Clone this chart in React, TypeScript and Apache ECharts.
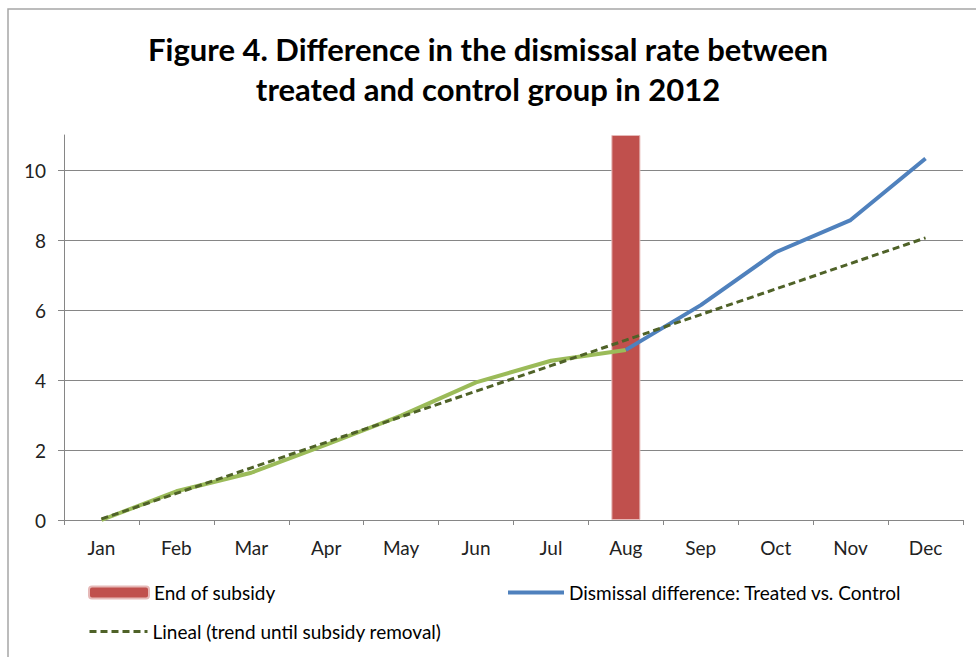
import React, { useEffect, useRef } from "react";
import * as echarts from "echarts";

const months = ["Jan", "Feb", "Mar", "Apr", "May", "Jun", "Jul", "Aug", "Sep", "Oct", "Nov", "Dec"];
const beforeRemoval = [0, 0.82, 1.35, 2.15, 2.98, 3.93, 4.55, 4.86, null, null, null, null];
const dismissalDiff = [null, null, null, null, null, null, null, 4.86, 6.14, 7.65, 8.57, 10.33];
const trendValues = [0.03, 0.76, 1.49, 2.22, 2.95, 3.68, 4.41, 5.14, 5.87, 6.6, 7.33, 8.06];
const subsidyBar = [null, null, null, null, null, null, null, 11, null, null, null, null];
const yTicks = [0, 2, 4, 6, 8, 10];
const gridValues = [2, 4, 6, 8, 10];

const FONT = "Lato";

export default function App() {
  const ref = useRef<HTMLDivElement>(null);
  useEffect(() => {
    const chart = echarts.init(ref.current!, null, { renderer: "svg" });
    const legendText = { fontFamily: FONT, fontSize: 19, color: "#000" };
    chart.setOption({
      animation: false,
      backgroundColor: "#fff",
      title: {
        text: "Figure 4. Difference in the dismissal rate between\ntreated and control group in 2012",
        left: "center",
        top: 24,
        textStyle: { fontFamily: FONT, fontWeight: "bold", fontSize: 31, lineHeight: 40, color: "#000" },
      },
      graphic: [
        {
          type: "rect",
          shape: { x: 8, y: 9, width: 1000, height: 700 },
          style: { fill: "none", stroke: "#a6a6a6", lineWidth: 1.5 },
          silent: true,
        },
      ],
      legend: [
        {
          data: ["End of subsidy"],
          left: 83,
          top: 578,
          itemWidth: 60,
          itemHeight: 12,
          itemGap: 4,
          textStyle: legendText,
        },
        {
          data: ["Dismissal difference: Treated vs. Control"],
          left: 501,
          top: 578,
          itemWidth: 56,
          itemHeight: 12,
          itemStyle: { opacity: 0 },
          lineStyle: { width: 4 },
          textStyle: legendText,
        },
        {
          data: ["Lineal (trend until subsidy removal)"],
          left: 83,
          top: 617,
          itemWidth: 58,
          itemHeight: 12,
          itemStyle: { opacity: 0 },
          lineStyle: { width: 3 },
          textStyle: legendText,
        },
      ],
      grid: { left: 64, right: 13, top: 135, bottom: 137, containLabel: false },
      xAxis: {
        type: "category",
        data: months,
        boundaryGap: true,
        axisLine: { lineStyle: { color: "#868686", width: 1 } },
        axisTick: { show: true, length: 5, lineStyle: { color: "#868686" } },
        axisLabel: { fontFamily: FONT, fontSize: 19, color: "#222", margin: 18 },
      },
      yAxis: {
        type: "value",
        min: 0,
        max: 11,
        interval: 2,
        axisLine: { show: true, lineStyle: { color: "#868686", width: 1 } },
        axisTick: { show: true, length: 6, inside: false, customValues: yTicks, lineStyle: { color: "#868686" } },
        axisLabel: { fontFamily: FONT, fontSize: 19, color: "#222", margin: 18, customValues: yTicks },
        splitLine: { show: false },
      },
      series: [
        {
          name: "End of subsidy",
          type: "bar",
          data: subsidyBar,
          barWidth: 29,
          z: 2,
          itemStyle: { color: "#C0504D", borderColor: "#E6B9B8", borderWidth: 1 },
          markLine: {
            silent: true,
            z: 1,
            symbol: "none",
            label: { show: false },
            lineStyle: { color: "#868686", width: 1, type: "solid" },
            data: gridValues.map((v) => ({ yAxis: v })),
          },
        },
        {
          name: "Before removal",
          type: "line",
          data: beforeRemoval,
          symbol: "none",
          z: 3,
          lineStyle: { color: "#9BBB59", width: 4 },
          itemStyle: { color: "#9BBB59" },
        },
        {
          name: "Dismissal difference: Treated vs. Control",
          type: "line",
          data: dismissalDiff,
          symbol: "none",
          z: 3,
          lineStyle: { color: "#4F81BD", width: 4 },
          itemStyle: { color: "#4F81BD" },
        },
        {
          name: "Lineal (trend until subsidy removal)",
          type: "line",
          data: trendValues,
          symbol: "none",
          z: 4,
          lineStyle: { color: "#4F6228", width: 3, type: [7, 4] },
          itemStyle: { color: "#4F6228" },
        },
      ],
    });
    return () => chart.dispose();
  }, []);
  return (
    <div
      ref={ref}
      style={{ position: "absolute", left: 0, top: 0, width: 976, height: 657 }}
    />
  );
}
